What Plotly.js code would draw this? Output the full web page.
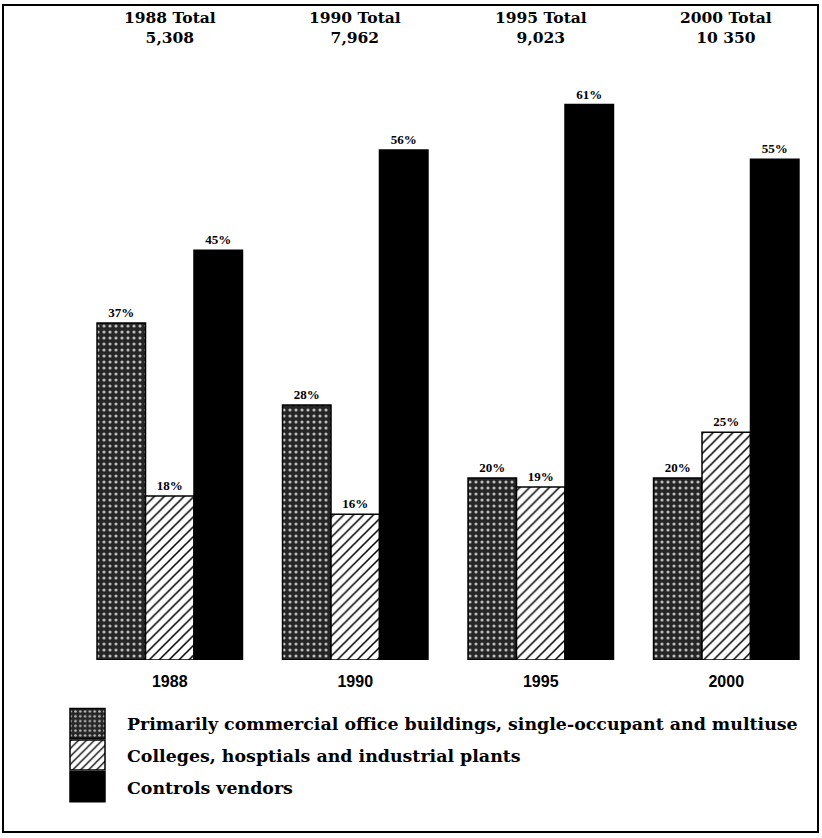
<!DOCTYPE html>
<html>
<head>
<meta charset="utf-8">
<script src="https://cdn.plot.ly/plotly-3.0.1.min.js"></script>
<style>
html,body{margin:0;padding:0;background:#fff;}
#chart{width:822px;height:838px;}
</style>
</head>
<body>
<div id="chart"></div>
<script>
const years = ["1988", "1990", "1995", "2000"];
const totals = ["5,308", "7,962", "9,023", "10 350"];
const seriesNames = [
  "Primarily commercial office buildings, single-occupant and multiuse",
  "Colleges, hosptials and industrial plants",
  "Controls vendors"
];
const commercial = [37, 28, 20, 20];
const colleges = [18, 16, 19, 25];
const vendors = [45, 56, 61, 55];

const serif = "Liberation Serif, Times New Roman, serif";
const wideSerif = "DejaVu Serif, serif";
const labelFont = {family: serif, size: 13, color: "#000", weight: "bold"};

const common = {
  type: "bar",
  x: years,
  texttemplate: "%{y}%",
  textposition: "outside",
  textfont: labelFont,
  cliponaxis: false,
  hoverinfo: "skip"
};

const traces = [
  Object.assign({}, common, {
    name: seriesNames[0], y: commercial, legendgroup: "a",
    marker: {color: "#2a2a2a", line: {color: "#000", width: 1.5},
      pattern: {shape: ".", fgcolor: "#bdbdbd", bgcolor: "#262626", size: 6, solidity: 0.22}}
  }),
  Object.assign({}, common, {
    name: seriesNames[1], y: colleges, legendgroup: "b",
    marker: {color: "#ffffff", line: {color: "#000", width: 1.5},
      pattern: {shape: "/", fgcolor: "#000", bgcolor: "#fff", size: 7, solidity: 0.22}}
  }),
  Object.assign({}, common, {
    name: seriesNames[2], y: vendors, legendgroup: "c",
    marker: {color: "#000", line: {color: "#000", width: 1.5}}
  })
];

const annotations = years.map((yr, i) => ({
  xref: "x", yref: "paper", x: i, y: 1.053, yanchor: "middle",
  text: yr + " Total<br>" + totals[i], showarrow: false,
  font: {family: wideSerif, size: 15.5, color: "#000", weight: "bold"}
}));

const layout = {
  width: 822, height: 838,
  margin: {l: 77, r: 3, t: 59, b: 178},
  paper_bgcolor: "#fff", plot_bgcolor: "#fff",
  barmode: "group", bargap: 0.216, bargroupgap: 0,
  showlegend: true,
  legend: {
    x: (58 - 77) / 742, xanchor: "left", y: -0.076, yanchor: "top",
    orientation: "v", traceorder: "grouped", tracegroupgap: 6,
    font: {family: wideSerif, size: 17.4, color: "#000", weight: "bold"},
    itemwidth: 59, bgcolor: "rgba(0,0,0,0)"
  },
  xaxis: {
    type: "category", range: [-0.5, 3.5], showline: false, showgrid: false,
    ticks: "", ticklabelstandoff: 10,
    tickfont: {family: "Liberation Sans, Arial, sans-serif", size: 16, color: "#000", weight: "bold"},
    zeroline: false, fixedrange: true
  },
  yaxis: {
    range: [0, 66], visible: false, showgrid: false, zeroline: false, fixedrange: true
  },
  annotations: annotations,
  shapes: [{
    type: "rect", xref: "paper", yref: "paper",
    x0: (3 - 77) / 742, x1: (818 - 77) / 742,
    y0: (660 - 832) / 601, y1: (660 - 5) / 601,
    line: {color: "#000", width: 2}, fillcolor: "rgba(0,0,0,0)", layer: "below"
  }]
};

Plotly.newPlot("chart", traces, layout, {displayModeBar: false, staticPlot: true}).then(() => {
  document.querySelectorAll("#chart .legend .legendpoints path").forEach(p => {
    p.setAttribute("d", "M17.5,15H-17.5V-15H17.5Z");
    p.setAttribute("transform", "translate(29.5,0)");
  });
});
</script>
</body>
</html>
